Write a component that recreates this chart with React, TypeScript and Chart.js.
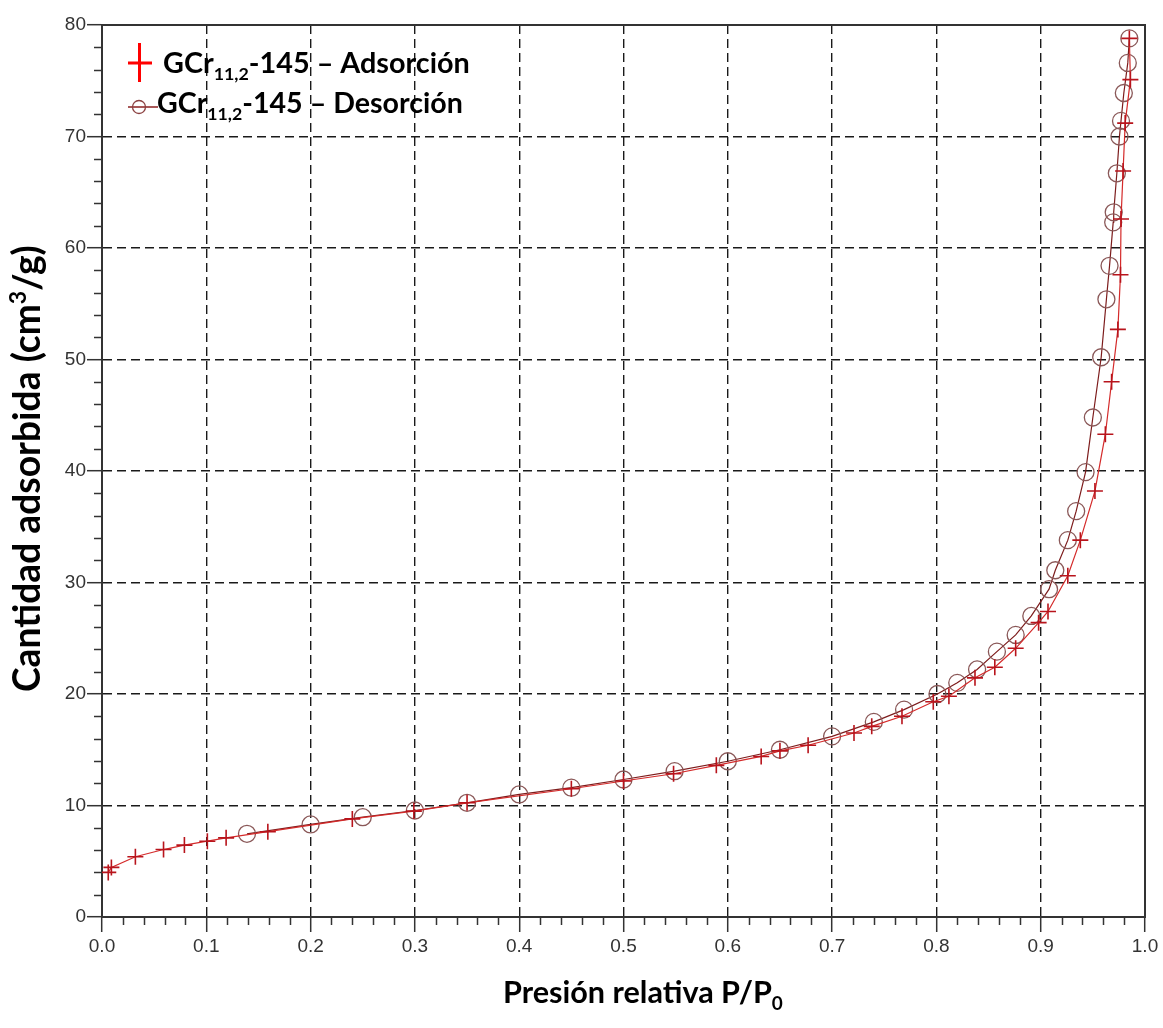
import React, { useEffect, useRef } from "react";
import { Chart, registerables } from "chart.js";

Chart.register(...registerables);

// ---------- data ----------
const adsorptionP = [
  0.006, 0.009, 0.032, 0.059, 0.079, 0.101, 0.119, 0.159, 0.24, 0.299, 0.35, 0.45, 0.5, 0.548, 0.589, 0.632,
  0.65, 0.677, 0.721, 0.738, 0.767, 0.797, 0.812, 0.837, 0.856, 0.876, 0.898, 0.907, 0.926, 0.938, 0.952,
  0.962, 0.968, 0.974, 0.9765, 0.977, 0.979, 0.981, 0.986, 0.985,
];
const adsorptionQ = [
  4.0, 4.45, 5.4, 6.05, 6.45, 6.8, 7.1, 7.65, 8.8, 9.5, 10.24, 11.5, 12.2, 12.85, 13.6, 14.4, 14.9, 15.4,
  16.5, 17.1, 18.0, 19.3, 19.8, 21.45, 22.4, 24.1, 26.4, 27.4, 30.6, 33.8, 38.2, 43.3, 48.0, 52.7, 57.6,
  62.6, 66.9, 71.2, 75.1, 78.8,
];
const desorptionP = [
  0.139, 0.2, 0.25, 0.3, 0.35, 0.4, 0.45, 0.5, 0.549, 0.6, 0.65, 0.7, 0.74, 0.769, 0.801, 0.82, 0.839,
  0.858, 0.876, 0.891, 0.908, 0.914, 0.926, 0.934, 0.943, 0.95, 0.958, 0.963, 0.966, 0.9695, 0.97, 0.973,
  0.9755, 0.977, 0.9797, 0.9835, 0.985,
];
const desorptionQ = [
  7.46, 8.3, 8.95, 9.55, 10.24, 10.99, 11.6, 12.33, 13.08, 13.97, 15.0, 16.2, 17.5, 18.6, 20.0, 21.0, 22.2,
  23.8, 25.3, 27.0, 29.4, 31.1, 33.8, 36.4, 39.9, 44.8, 50.2, 55.4, 58.4, 62.3, 63.2, 66.7, 70.0, 71.4,
  73.9, 76.6, 78.8,
];
const xMajorTicks = [0, 0.1, 0.2, 0.3, 0.4, 0.5, 0.6, 0.7, 0.8, 0.9, 1.0];
const yMajorTicks = [0, 10, 20, 30, 40, 50, 60, 70, 80];
const xTitle = [{ t: "Presión relativa P/P" }, { t: "0", kind: "sub" }];
const yTitle = [{ t: "Cantidad adsorbida (cm" }, { t: "3", kind: "sup" }, { t: "/g)" }];
const legendAds = [{ t: "GCr" }, { t: "11,2", kind: "sub" }, { t: "-145 – Adsorción" }];
const legendDes = [{ t: "GCr" }, { t: "11,2", kind: "sub" }, { t: "-145 – Desorción" }];

// ---------- helpers ----------
type Part = { t: string; kind?: string };
const FAMILY = "Lato, 'Open Sans', sans-serif";

function partFont(p: Part, size: number) {
  return `bold ${p.kind ? size * 0.62 : size}px ${FAMILY}`;
}
function drawRich(ctx: CanvasRenderingContext2D, parts: Part[], x: number, y: number, targetW: number) {
  const base = 28;
  let w0 = 0;
  for (const p of parts) {
    ctx.font = partFont(p, base);
    w0 += ctx.measureText(p.t).width;
  }
  const size = (base * targetW) / w0;
  let cx = x;
  ctx.textAlign = "left";
  ctx.textBaseline = "alphabetic";
  ctx.fillStyle = "#000";
  for (const p of parts) {
    ctx.font = partFont(p, size);
    const dy = p.kind === "sub" ? size * 0.24 : p.kind === "sup" ? -size * 0.38 : 0;
    ctx.fillText(p.t, cx, y + dy);
    cx += ctx.measureText(p.t).width;
  }
}

const decor = {
  id: "decor",
  beforeDatasetsDraw(chart: any) {
    const { ctx, chartArea } = chart;
    const xs = chart.scales.x;
    const ys = chart.scales.y;
    ctx.save();
    ctx.setLineDash([]);
    ctx.strokeStyle = "#333";
    ctx.lineWidth = 1.5;
    // minor ticks x
    for (let i = 0; i <= 50; i++) {
      if (i % 5 === 0) continue;
      const px = Math.round(xs.getPixelForValue(i / 50)) + 0.5;
      ctx.beginPath();
      ctx.moveTo(px, chartArea.bottom);
      ctx.lineTo(px, chartArea.bottom + 8);
      ctx.stroke();
    }
    for (let i = 0; i <= 40; i++) {
      if (i % 5 === 0) continue;
      const py = Math.round(ys.getPixelForValue(i * 2)) + 0.5;
      ctx.beginPath();
      ctx.moveTo(chartArea.left - 8, py);
      ctx.lineTo(chartArea.left, py);
      ctx.stroke();
    }
    // frame
    ctx.lineWidth = 2;
    ctx.strokeRect(chartArea.left, chartArea.top, chartArea.right - chartArea.left, chartArea.bottom - chartArea.top);
    ctx.restore();
  },
  afterDraw(chart: any) {
    const { ctx } = chart;
    ctx.save();
    ctx.setLineDash([]);
    // axis titles
    drawRich(ctx, xTitle, 503, 1003, 280);
    ctx.save();
    ctx.translate(40, 692);
    ctx.rotate(-Math.PI / 2);
    drawRich(ctx, yTitle, 0, 0, 447);
    ctx.restore();
    // legend
    ctx.strokeStyle = "#ff0000";
    ctx.lineWidth = 3;
    ctx.beginPath();
    ctx.moveTo(139.5, 43);
    ctx.lineTo(139.5, 82);
    ctx.moveTo(128, 63);
    ctx.lineTo(152, 63);
    ctx.stroke();
    drawRich(ctx, legendAds, 163, 73, 307);
    ctx.strokeStyle = "#8b2020";
    ctx.lineWidth = 1.5;
    ctx.beginPath();
    ctx.moveTo(128, 107);
    ctx.lineTo(158, 107);
    ctx.stroke();
    ctx.strokeStyle = "#8b4040";
    ctx.lineWidth = 1.3;
    ctx.beginPath();
    ctx.arc(139, 107, 6.5, 0, Math.PI * 2);
    ctx.stroke();
    drawRich(ctx, legendDes, 157, 113, 306);
    ctx.restore();
  },
};

const gridOpts = {
  color: "#1a1a1a",
  lineWidth: 1.4,
  tickLength: 15,
  tickColor: "#333",
  tickWidth: 1.5,
  tickBorderDash: [],
};
const borderOpts = { display: true, color: "#333", width: 2, dash: [9, 5] };
const tickFont = { family: "'Liberation Sans', Arial, sans-serif", size: 19 };

export default function App() {
  const ref = useRef<HTMLCanvasElement | null>(null);
  useEffect(() => {
    if (!ref.current) return;
    const chart = new Chart(ref.current, {
      type: "scatter",
      data: {
        datasets: [
          {
            label: "Adsorción",
            data: adsorptionP.map((p, i) => ({ x: p, y: adsorptionQ[i] })),
            showLine: true,
            borderColor: "#d42a2a",
            borderWidth: 1.2,
            pointStyle: "cross",
            pointRadius: 8,
            pointBorderColor: "#b8141c",
            pointBorderWidth: 1.6,
            pointBackgroundColor: "rgba(0,0,0,0)",
            tension: 0,
          },
          {
            label: "Desorción",
            data: desorptionP.map((p, i) => ({ x: p, y: desorptionQ[i] })),
            showLine: true,
            borderColor: "#7d1c1c",
            borderWidth: 1.2,
            pointStyle: "circle",
            pointRadius: 8.5,
            pointBorderColor: "#8a5858",
            pointBorderWidth: 1.3,
            pointBackgroundColor: "rgba(0,0,0,0)",
            tension: 0,
          },
        ],
      },
      options: {
        responsive: false,
        animation: false,
        layout: { padding: { left: 0, top: 25, right: 18, bottom: 0 } },
        plugins: { legend: { display: false }, tooltip: { enabled: false } },
        scales: {
          x: {
            type: "linear",
            min: 0,
            max: 1,
            afterBuildTicks: (s: any) => {
              s.ticks = xMajorTicks.map((v) => ({ value: v }));
            },
            afterFit: (s: any) => {
              s.height = 111;
            },
            ticks: {
              callback: (v: any) => Number(v).toFixed(1),
              font: tickFont,
              color: "#333",
              padding: 3,
              maxRotation: 0,
              autoSkip: false,
            },
            grid: gridOpts,
            border: borderOpts,
          },
          y: {
            type: "linear",
            min: 0,
            max: 80,
            afterBuildTicks: (s: any) => {
              s.ticks = yMajorTicks.map((v) => ({ value: v }));
            },
            afterFit: (s: any) => {
              s.width = 102;
            },
            ticks: {
              callback: (v: any) => String(Math.round(Number(v))),
              font: tickFont,
              color: "#333",
              padding: 1,
              autoSkip: false,
            },
            grid: gridOpts,
            border: borderOpts,
          },
        },
      },
      plugins: [decor],
    } as any);
    return () => chart.destroy();
  }, []);
  return (
    <div style={{ position: "absolute", left: 0, top: 0, width: 1163, height: 1028, background: "#fff" }}>
      <canvas ref={ref} width={1163} height={1028} style={{ display: "block" }} />
    </div>
  );
}
